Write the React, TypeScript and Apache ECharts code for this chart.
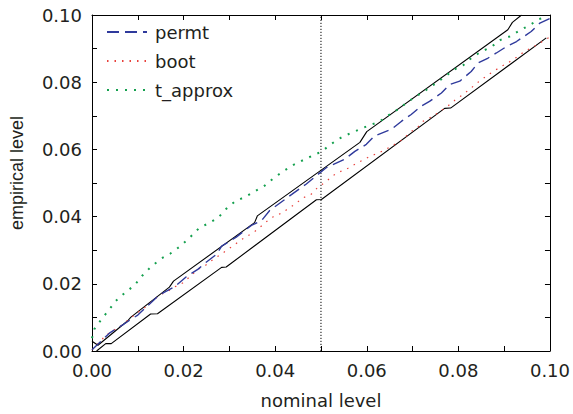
import React, { useEffect, useRef } from "react";
import * as echarts from "echarts";

// [nominal, empirical] pairs
const upperBound: number[][] = [
  [0.0, 0.0029], [0.0013, 0.0017], [0.0078, 0.009], [0.0085, 0.0101],
  [0.0169, 0.019], [0.0178, 0.0208], [0.0355, 0.0382], [0.0361, 0.0402],
  [0.0585, 0.0621], [0.06, 0.0653], [0.0908, 0.0956], [0.0918, 0.0978],
  [0.0938, 0.1],
];
const lowerBound: number[][] = [
  [0.001, 0.0], [0.003, 0.0022], [0.0042, 0.0022], [0.0128, 0.011],
  [0.0143, 0.0111], [0.0283, 0.0249], [0.0293, 0.025], [0.049, 0.045],
  [0.0501, 0.0451], [0.077, 0.0722], [0.0783, 0.0723], [0.0992, 0.0932],
];
const permt: number[][] = [
  [0.0, 0.0004], [0.0038, 0.0053], [0.0067, 0.0078], [0.01, 0.0107],
  [0.0147, 0.0167], [0.018, 0.0191], [0.0206, 0.0221], [0.0231, 0.0243],
  [0.025, 0.0265], [0.0272, 0.0288], [0.0283, 0.0312], [0.0315, 0.0339],
  [0.0348, 0.0374], [0.037, 0.0388], [0.0388, 0.0418], [0.0428, 0.0458],
  [0.0468, 0.0497], [0.049, 0.0522], [0.0512, 0.0546], [0.0552, 0.0571],
  [0.0574, 0.0594], [0.0599, 0.0615], [0.0617, 0.064], [0.0654, 0.066],
  [0.0676, 0.0684], [0.0697, 0.0704], [0.0719, 0.0729], [0.0737, 0.0743],
  [0.0763, 0.0768], [0.0781, 0.0793], [0.0803, 0.0803], [0.0828, 0.0832],
  [0.0843, 0.0857], [0.0865, 0.0872], [0.0883, 0.0887], [0.0905, 0.0906],
  [0.0927, 0.0921], [0.0959, 0.0951], [0.0978, 0.0976], [0.1, 0.099],
];
const boot: number[][] = [
  [0.0, 0.0003], [0.0031, 0.0048], [0.0064, 0.0076], [0.0097, 0.0112],
  [0.0115, 0.0129], [0.0148, 0.0167], [0.0165, 0.0177], [0.0181, 0.0191],
  [0.0199, 0.0203], [0.0231, 0.0243], [0.0248, 0.0255], [0.0264, 0.0272],
  [0.0283, 0.0289], [0.0312, 0.0317], [0.0326, 0.0331], [0.0344, 0.0346],
  [0.0361, 0.0361], [0.0377, 0.0381], [0.0395, 0.0399], [0.041, 0.0408],
  [0.0428, 0.0423], [0.0444, 0.0438], [0.0461, 0.0456], [0.0479, 0.0467],
  [0.0493, 0.0487], [0.0512, 0.0505], [0.0526, 0.0522], [0.0545, 0.0536],
  [0.0559, 0.0544], [0.0577, 0.0558], [0.0595, 0.0571], [0.061, 0.0581],
  [0.0628, 0.0591], [0.0643, 0.0601], [0.0661, 0.0615], [0.0679, 0.063],
  [0.0694, 0.065], [0.0712, 0.0667], [0.0723, 0.0684], [0.0745, 0.0699],
  [0.0777, 0.0729], [0.0792, 0.0746], [0.081, 0.0763], [0.0828, 0.0783],
  [0.0843, 0.08], [0.0861, 0.0818], [0.0876, 0.0832], [0.0894, 0.0847],
  [0.091, 0.0859], [0.0927, 0.0874], [0.0943, 0.089], [0.097, 0.091],
  [0.1, 0.0935],
];
const tApprox: number[][] = [
  [0.0, 0.0038], [0.0005, 0.0065], [0.0021, 0.0095], [0.0038, 0.0124],
  [0.0052, 0.0149], [0.0071, 0.0172], [0.0093, 0.0196], [0.0109, 0.0223],
  [0.0129, 0.0251], [0.0151, 0.0275], [0.0171, 0.029], [0.0193, 0.0312],
  [0.0213, 0.0337], [0.0234, 0.0366], [0.0253, 0.0379], [0.0275, 0.0396],
  [0.0293, 0.0423], [0.0313, 0.0446], [0.0335, 0.0459], [0.0355, 0.0475],
  [0.0377, 0.0492], [0.0397, 0.0515], [0.0419, 0.0536], [0.044, 0.0554],
  [0.0461, 0.0568], [0.0481, 0.0581], [0.0502, 0.0594], [0.0521, 0.0615],
  [0.0541, 0.0633], [0.0564, 0.0648], [0.0585, 0.066], [0.0606, 0.0672],
  [0.0627, 0.0682], [0.0648, 0.0702], [0.0668, 0.0719], [0.069, 0.0742],
  [0.0711, 0.0761], [0.0729, 0.0776], [0.075, 0.0796], [0.077, 0.0816],
  [0.079, 0.0837], [0.081, 0.085], [0.083, 0.0874], [0.085, 0.0891],
  [0.0871, 0.0904], [0.0892, 0.0926], [0.0912, 0.0936], [0.0934, 0.0954],
  [0.0956, 0.097], [0.0976, 0.0988], [0.0995, 0.0995],
];
const referenceLine: number[][] = [[0.05, 0.0], [0.05, 0.1]];
const legendNames = ["permt", "boot", "t_approx"];

const TEXT = "#231f20";
const FONT = "DejaVu Sans";

export default function App() {
  const ref = useRef<HTMLDivElement>(null);
  useEffect(() => {
    document.body.style.margin = "0";
    const chart = echarts.init(ref.current!, null, { renderer: "svg" });
    const axisCommon = (showLabel: boolean) => ({
      type: "value",
      min: 0,
      max: 0.1,
      interval: 0.02,
      axisLine: { show: true, onZero: false, lineStyle: { color: "#000", width: 1 } },
      axisTick: { show: true, inside: true, length: 5, lineStyle: { color: "#000", width: 1 } },
      minorTick: { show: true, splitNumber: 2, length: 5, lineStyle: { color: "#000", width: 1 } },
      splitLine: { show: false },
      minorSplitLine: { show: false },
      axisLabel: {
        show: showLabel,
        formatter: (v: number) => v.toFixed(2),
        fontSize: 18,
        fontFamily: FONT,
        color: TEXT,
        margin: 10,
      },
    });
    chart.setOption({
      animation: false,
      backgroundColor: "#fff",
      grid: { left: 92, top: 15, right: 23, bottom: 61 },
      legend: {
        data: legendNames,
        orient: "vertical",
        left: 101,
        top: 18,
        itemWidth: 40,
        itemHeight: 12,
        itemGap: 11,
        itemStyle: { opacity: 0 },
        textStyle: { fontSize: 18, fontFamily: FONT, color: TEXT, padding: [0, 0, 0, 3] },
      },
      xAxis: [
        {
          ...axisCommon(true),
          position: "bottom",
          name: "nominal level",
          nameLocation: "middle",
          nameGap: 40,
          nameTextStyle: { fontSize: 18, fontFamily: FONT, color: TEXT },
        },
        { ...axisCommon(false), position: "top" },
      ],
      yAxis: [
        { ...axisCommon(true), position: "left" },
        { ...axisCommon(false), position: "right" },
      ],
      graphic: [
        {
          type: "text",
          x: 17,
          y: 173,
          rotation: Math.PI / 2,
          style: {
            text: "empirical level",
            fontSize: 18,
            fontFamily: "Liberation Sans",
            fill: TEXT,
            align: "center",
            verticalAlign: "middle",
          },
        },
      ],
      series: [
        {
          name: "upper",
          type: "line",
          data: upperBound,
          symbol: "none",
          lineStyle: { color: "#000", width: 1.1 },
          z: 2,
        },
        {
          name: "lower",
          type: "line",
          data: lowerBound,
          symbol: "none",
          lineStyle: { color: "#000", width: 1.1 },
          z: 2,
        },
        {
          name: "ref",
          type: "line",
          data: referenceLine,
          symbol: "none",
          lineStyle: { color: "#000", width: 1, type: [1.2, 1.8] },
          z: 2,
        },
        {
          name: "boot",
          type: "line",
          data: boot,
          symbol: "none",
          itemStyle: { color: "#e8413c" },
          lineStyle: { color: "#e8413c", width: 1.2, type: [1.5, 6] },
          z: 3,
        },
        {
          name: "t_approx",
          type: "line",
          data: tApprox,
          symbol: "none",
          itemStyle: { color: "#14a04e" },
          lineStyle: { color: "#14a04e", width: 2, type: [2, 7] },
          z: 3,
        },
        {
          name: "permt",
          type: "line",
          data: permt,
          symbol: "none",
          itemStyle: { color: "#2f3a9c" },
          lineStyle: { color: "#2f3a9c", width: 1.4, type: [12, 6] },
          z: 4,
        },
      ],
    });
    return () => chart.dispose();
  }, []);
  return <div ref={ref} style={{ width: 573, height: 414 }} />;
}
